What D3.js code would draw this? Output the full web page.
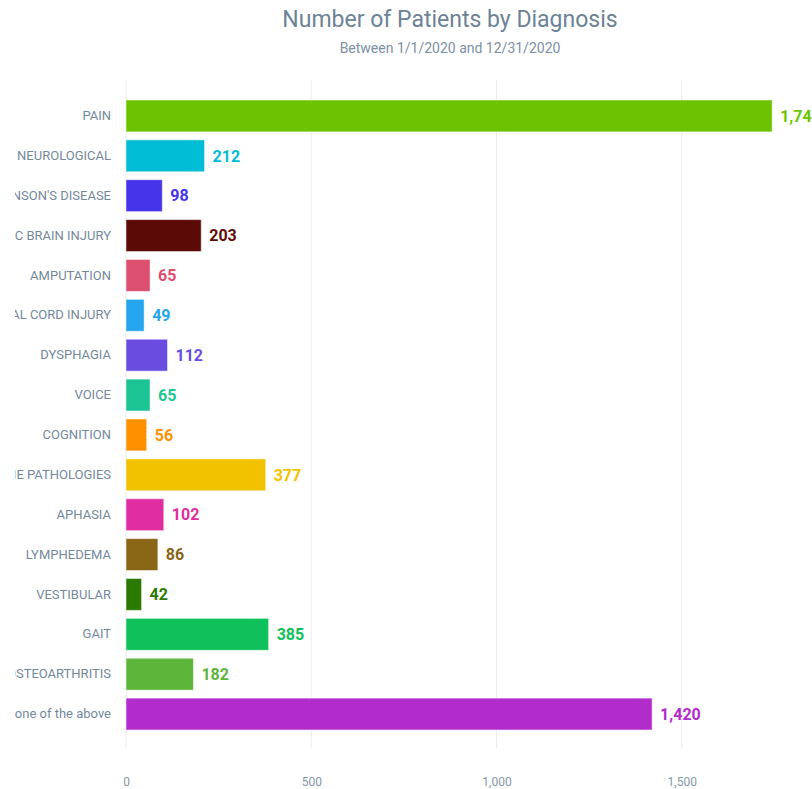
<!DOCTYPE html>
<html>
<head>
<meta charset="utf-8">
<script src="https://cdn.jsdelivr.net/npm/d3@7"></script>
<style>
  html, body { margin: 0; padding: 0; background: #fff; overflow: hidden; }
  svg { display: block; font-family: Roboto, "Open Sans", sans-serif; }
</style>
</head>
<body>
<div id="chart"></div>
<script>
const diagnoses = [
    "PAIN", "NEUROLOGICAL", "PARKINSON'S DISEASE", "TRAUMATIC BRAIN INJURY",
    "AMPUTATION", "SPINAL CORD INJURY", "DYSPHAGIA", "VOICE", "COGNITION",
    "SPINE PATHOLOGIES", "APHASIA", "LYMPHEDEMA", "VESTIBULAR", "GAIT",
    "OSTEOARTHRITIS", "None of the above"
];
const patients = [1744, 212, 98, 203, 65, 49, 112, 65, 56, 377, 102, 86, 42, 385, 182, 1420];
const barColors = [
    "#6cc400", "#00bcd4", "#4534e9", "#5c0a06", "#dc4f6e", "#25a5ee",
    "#6a4de0", "#1dc493", "#ff9100", "#f2c200", "#e02da0", "#8a6617",
    "#2b7a00", "#10c05a", "#5db53a", "#b22ccc"
];
const gridTicks = [0, 500, 1000, 1500, 2000];
const xTickLabels = [0, 500, 1000, 1500];

(function () {
    const width = 812, height = 789;
    const data = diagnoses.map((d, i) => ({ name: d, value: patients[i], color: barColors[i] }));

    const svg = d3.select("#chart").append("svg")
        .attr("width", width)
        .attr("height", height);

    // category labels are clipped by the label area, like the original
    svg.append("defs").append("clipPath")
        .attr("id", "label-clip")
        .append("rect")
        .attr("x", 15).attr("y", 0)
        .attr("width", 110).attr("height", height);

    svg.append("text")
        .attr("x", 450).attr("y", 27)
        .attr("text-anchor", "middle")
        .style("font-size", "23px")
        .attr("fill", "#6d8296")
        .text("Number of Patients by Diagnosis");

    svg.append("text")
        .attr("x", 450).attr("y", 53)
        .attr("text-anchor", "middle")
        .style("font-size", "14px")
        .attr("fill", "#7d90a3")
        .text("Between 1/1/2020 and 12/31/2020");

    const x = d3.scaleLinear().domain([0, 2000]).range([126, 867]);
    const y = d3.scaleBand().domain(diagnoses).range([96, 734])
        .paddingInner(0.2).paddingOuter(0.1);

    // grid
    svg.append("g").selectAll("line")
        .data(gridTicks)
        .join("line")
        .attr("x1", d => x(d)).attr("x2", d => x(d))
        .attr("y1", 80).attr("y2", 748)
        .attr("stroke", "#ebebeb")
        .attr("stroke-width", 1);

    // x axis labels
    const xAxis = svg.append("g")
        .attr("transform", "translate(0,777)")
        .call(d3.axisBottom(x).tickValues(xTickLabels).tickFormat(d3.format(",")).tickSize(0).tickPadding(0));
    xAxis.select(".domain").remove();
    xAxis.selectAll("text")
        .style("font-size", "12px")
        .style("font-family", "Roboto, sans-serif")
        .attr("fill", "#8597a8");

    // y axis labels
    const yAxis = svg.append("g")
        .attr("clip-path", "url(#label-clip)")
        .append("g")
        .attr("transform", "translate(111,0)")
        .call(d3.axisLeft(y).tickSize(0).tickPadding(0));
    yAxis.select(".domain").remove();
    yAxis.selectAll("text")
        .style("font-size", "13px")
        .style("font-family", "Roboto, sans-serif")
        .attr("fill", "#74889b");

    svg.append("g").selectAll("rect")
        .data(data)
        .join("rect")
        .attr("x", x(0))
        .attr("y", d => y(d.name))
        .attr("width", d => x(d.value) - x(0))
        .attr("height", y.bandwidth())
        .attr("fill", d => d.color)
        .attr("stroke", "#ffffff")
        .attr("stroke-opacity", 0.5)
        .attr("stroke-width", 1);

    svg.append("g").selectAll("text")
        .data(data)
        .join("text")
        .attr("x", d => x(d.value) + 8)
        .attr("y", d => y(d.name) + y.bandwidth() / 2)
        .attr("dy", "0.36em")
        .style("font-size", "16px")
        .style("font-weight", "bold")
        .attr("fill", d => d.color)
        .text(d => d3.format(",")(d.value));
})();
</script>
</body>
</html>
